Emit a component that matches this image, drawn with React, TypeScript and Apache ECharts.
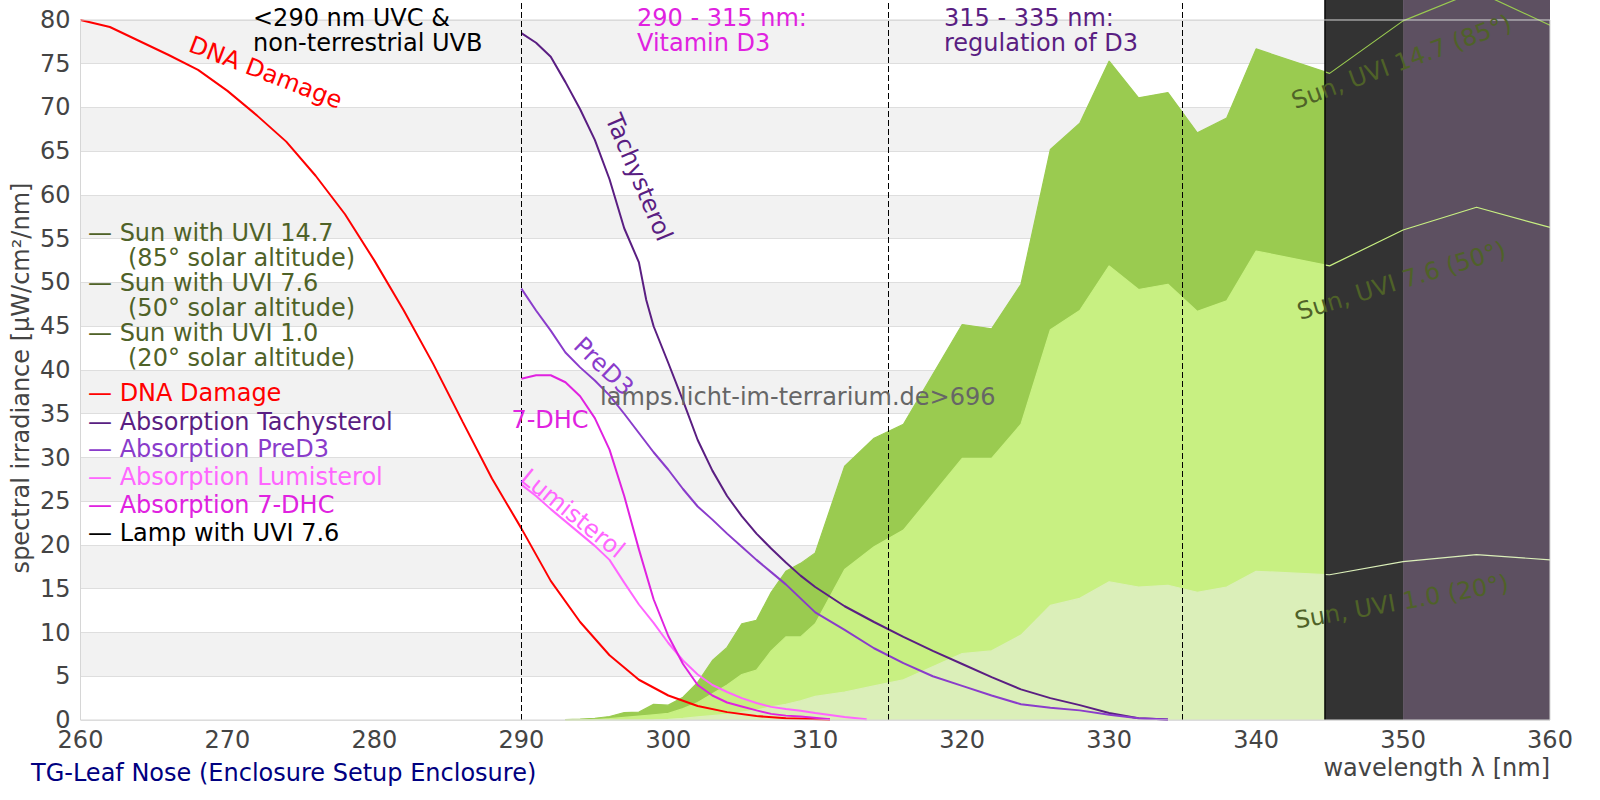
import React, { useEffect, useRef } from 'react';
import * as echarts from 'echarts';

const FONT = 'DejaVu Sans';

// ---- axes ----
const X_MIN = 260;
const X_MAX = 360;
const X_STEP = 10;
const Y_MIN = 0;
const Y_TOP_VALUE = 80;
const Y_MAX = 82.2857; // plot continues above 80 up to the page top; labels only up to 80
const Y_STEP = 5;

// ---- sun spectra (filled areas) ----
const sunWl = [293, 294, 295, 296, 297, 298, 299, 300, 301, 302, 303, 304, 305, 306, 307, 308, 309, 310,
  312, 314, 316, 320, 322, 324, 326, 328, 330, 332, 334, 336, 338, 340, 345, 350, 355, 360];
const sun147 = [0.05, 0.1, 0.2, 0.4, 0.85, 0.9, 1.8, 1.7, 2.6, 4.3, 6.8, 8.3, 11.0, 11.4, 14.6, 17.0, 17.9, 19.1,
  29.0, 32.2, 33.8, 45.2, 44.7, 49.8, 65.2, 68.2, 75.3, 71.1, 71.7, 67.1, 68.8, 76.7, 73.9, 79.9, 83.3, 79.4];
const sun76 = [0, 0.02, 0.05, 0.15, 0.3, 0.45, 0.6, 0.75, 1.3, 2.0, 3.0, 4.0, 5.2, 5.7, 7.9, 9.5, 9.5, 11.0,
  17.2, 19.8, 21.7, 29.9, 29.9, 33.8, 44.6, 46.8, 51.9, 49.2, 49.8, 46.7, 47.9, 53.6, 51.9, 56.0, 58.6, 56.3];
const sun10 = [0, 0, 0, 0, 0, 0, 0.02, 0.08, 0.2, 0.35, 0.5, 0.65, 0.9, 1.14, 1.5, 1.8, 2.2, 2.7,
  3.2, 3.9, 4.6, 7.6, 7.9, 9.7, 13.1, 13.9, 15.8, 15.2, 15.4, 14.6, 15.2, 17.0, 16.6, 18.1, 18.9, 18.3];

// ---- action spectra ----
const dnaWl = [260, 262, 264, 266, 268, 270, 272, 274, 276, 278, 280, 282, 284, 286, 288, 290, 292, 294, 296, 298,
  300, 302, 304, 306, 308, 311];
const dnaVal = [80.0, 79.2, 77.6, 76.0, 74.3, 71.9, 69.1, 66.1, 62.2, 57.8, 52.5, 46.8, 40.7, 34.1, 27.6, 21.9, 15.9,
  11.2, 7.4, 4.6, 2.8, 1.6, 0.9, 0.45, 0.2, 0.05];

const tachyWl = [290, 291, 292, 293, 294, 295, 296, 297, 298, 298.5, 299, 300, 301, 302, 303, 304, 305, 306, 307, 308,
  309, 310, 312, 314, 316, 318, 320, 322, 324, 326, 328, 330, 332, 334];
const tachyVal = [78.5, 77.4, 75.8, 72.9, 69.8, 66.3, 61.8, 56.2, 52.3, 48.0, 45.0, 40.8, 36.5, 32.0, 28.5, 25.6, 23.3,
  21.3, 19.6, 18.0, 16.5, 15.2, 13.0, 11.2, 9.5, 7.9, 6.4, 4.9, 3.5, 2.5, 1.7, 0.8, 0.2, 0.05];

const preWl = [290, 291, 292, 293, 294, 295, 296, 297, 298, 299, 300, 301, 302, 303, 304, 305, 306, 307, 308, 309, 310,
  312, 314, 316, 318, 320, 322, 324, 326, 328, 330, 332, 334];
const preVal = [49.3, 46.8, 44.5, 42.0, 40.3, 38.8, 37.1, 35.0, 32.8, 30.6, 28.6, 26.4, 24.4, 22.9, 21.3, 19.8, 18.3,
  16.9, 15.5, 13.9, 12.3, 10.3, 8.2, 6.5, 5.0, 3.9, 2.8, 1.8, 1.4, 1.1, 0.6, 0.2, 0.05];

const dhcWl = [290, 291, 292, 293, 294, 295, 296, 297, 298, 299, 300, 301, 302, 303, 304, 305, 306, 307, 308, 309, 311];
const dhcVal = [39.0, 39.4, 39.4, 38.6, 37.0, 34.5, 30.9, 25.6, 19.5, 13.8, 9.6, 6.4, 4.0, 2.8, 2.0, 1.55, 1.1, 0.7,
  0.5, 0.4, 0.08];

const lumiWl = [290, 291, 292, 293, 294, 295, 296, 297, 298, 299, 300, 301, 302, 303, 304, 305, 306, 307, 308, 309,
  310, 312, 313.5];
const lumiVal = [26.9, 25.6, 24.1, 22.7, 21.3, 19.9, 18.3, 15.7, 13.2, 11.1, 8.8, 6.8, 5.2, 4.0, 3.2, 2.5, 1.95, 1.5,
  1.25, 1.05, 0.8, 0.35, 0.08];

// ---- regions / markers ----
const bandBorders = [290, 315, 335];
const regionStart = [344.7, 350];
const regionEnd = [350, 360];
const regionColors = ['#333333', '#5d5061'];

// ---- texts ----
const legendLabels = [
  '— Sun with UVI 14.7', '(85° solar altitude)', '— Sun with UVI 7.6', '(50° solar altitude)',
  '— Sun with UVI 1.0', '(20° solar altitude)', '— DNA Damage', '— Absorption Tachysterol',
  '— Absorption PreD3', '— Absorption Lumisterol', '— Absorption 7-DHC', '— Lamp with UVI 7.6',
];
const curveLabels = ['DNA Damage', 'Tachysterol', 'PreD3', '7-DHC', 'Lumisterol',
  'Sun, UVI 14.7 (85°)', 'Sun, UVI 7.6 (50°)', 'Sun, UVI 1.0 (20°)'];
const curveLabelAt = [[272.6, 74.0], [298.0, 62.0], [295.6, 40.4], [291.95, 34.3], [293.5, 23.6],
  [349.9, 75.2], [349.9, 50.2], [349.9, 13.5]];
const curveLabelRot = [-21, -67, -44, 0, -39, 20, 17, 10];

const C = {
  olive: '#4f6228',
  sunDark: '#9acb50',
  sunLight: '#c8f082',
  sunPale: '#dbefb9',
  red: '#ff0000',
  tachy: '#5a1e82',
  pre: '#8a3ccb',
  lumi: '#ff66ff',
  dhc: '#e022e0',
};
const legendColors = [C.olive, C.olive, C.olive, C.olive, C.olive, C.olive, C.red, C.tachy, C.pre, C.lumi, C.dhc, '#000000'];
const curveLabelColors = [C.red, C.tachy, C.pre, C.dhc, C.lumi, C.olive, C.olive, C.olive];

const pairs = (xs: number[], ys: number[]) => xs.map((x, i) => [x, ys[i]]);

function buildOption() {
  const area = (data: number[][], color: string) => ({
    type: 'line', data, symbol: 'none', silent: true, z: 1,
    lineStyle: { width: 0, opacity: 0 },
    areaStyle: { color, opacity: 1 },
  });
  const sunLine = (data: number[][], color: string) => ({
    type: 'line', data, symbol: 'none', silent: true, z: 3,
    lineStyle: { width: 1.2, color },
  });
  const curve = (data: number[][], color: string) => ({
    type: 'line', data, symbol: 'none', silent: true, z: 4,
    lineStyle: { width: 2, color },
  });
  const regions = regionStart.map((s, i) => ({
    type: 'line', data: [[s, Y_MAX], [regionEnd[i], Y_MAX]], symbol: 'none', silent: true, z: 2,
    lineStyle: { width: 0, opacity: 0 },
    areaStyle: { color: regionColors[i], opacity: 1 },
  }));

  return {
    animation: false,
    textStyle: { fontFamily: FONT },
    grid: { left: 80.5, right: 50, top: 0, bottom: 80 },
    xAxis: {
      type: 'value', min: X_MIN, max: X_MAX, interval: X_STEP,
      axisLine: { show: false }, axisTick: { show: false }, splitLine: { show: false },
      axisLabel: { fontSize: 24, color: '#444444', fontFamily: FONT, margin: 8 },
    },
    yAxis: {
      type: 'value', min: Y_MIN, max: Y_MAX, interval: Y_STEP,
      axisLine: { show: false }, axisTick: { show: false },
      splitLine: { show: true, showMaxLine: false, lineStyle: { color: '#dedede', width: 1 } },
      splitArea: { show: true, areaStyle: { color: ['#ffffff', '#f2f2f2'] } },
      axisLabel: {
        fontSize: 24, color: '#444444', fontFamily: FONT, margin: 10, showMaxLabel: false,
        formatter: (v: number) => (v > Y_TOP_VALUE ? '' : String(v)),
      },
    },
    series: [
      area(pairs(sunWl, sun147), C.sunDark),
      area(pairs(sunWl, sun76), C.sunLight),
      area(pairs(sunWl, sun10), C.sunPale),
      ...regions,
      sunLine(pairs(sunWl, sun147), C.sunDark),
      sunLine(pairs(sunWl, sun76), C.sunLight),
      sunLine(pairs(sunWl, sun10), C.sunPale),
      curve(pairs(dnaWl, dnaVal), C.red),
      curve(pairs(tachyWl, tachyVal), C.tachy),
      curve(pairs(preWl, preVal), C.pre),
      curve(pairs(lumiWl, lumiVal), C.lumi),
      curve(pairs(dhcWl, dhcVal), C.dhc),
      {
        type: 'line', symbol: 'none', silent: true, z: 6,
        data: [[X_MIN, Y_MIN], [X_MAX, Y_MIN], [X_MAX, Y_TOP_VALUE], [X_MIN, Y_TOP_VALUE], [X_MIN, Y_MIN]],
        lineStyle: { width: 1, color: '#d6d6d6' },
        markLine: {
          silent: true, symbol: ['none', 'none'], label: { show: false }, z: 5,
          lineStyle: { color: '#000000', type: [6, 3], width: 1 },
          data: [
            ...bandBorders.map((b) => ({ xAxis: b })),
            { xAxis: regionStart[0], lineStyle: { color: '#000000', type: 'solid', width: 1.5 } },
          ],
        },
      },
    ],
  };
}

export default function App() {
  const ref = useRef<HTMLDivElement>(null);
  useEffect(() => {
    document.body.style.margin = '0';
    const chart = echarts.init(ref.current as HTMLDivElement, null, { renderer: 'svg' });
    chart.setOption(buildOption() as any);

    const px = (x: number, y: number) => chart.convertToPixel({ gridIndex: 0 }, [x, y]) as number[];
    const text = (t: string, x: number, y: number, color: string, align = 'left', rotDeg = 0, size = 24) => ({
      type: 'text', x, y, rotation: (rotDeg * Math.PI) / 180, z: 100, silent: true,
      style: { text: t, fill: color, fontSize: size, fontFamily: FONT, align, verticalAlign: 'middle' },
    });
    const mid = 8.3; // baseline -> central offset for 24px
    const legendBase = [241.7, 266.7, 291.7, 316.7, 341.7, 366.7, 401.7, 430, 457.7, 485.7, 513.3, 541.5];
    const elements: any[] = [];
    legendLabels.forEach((l, i) => {
      const indent = l.startsWith('(') ? 128 : 88;
      elements.push(text(l, indent, legendBase[i] - mid, legendColors[i]));
    });
    curveLabels.forEach((l, i) => {
      const p = px(curveLabelAt[i][0], curveLabelAt[i][1]);
      elements.push(text(l, p[0], p[1], curveLabelColors[i], 'center', curveLabelRot[i]));
    });
    // band annotations at top
    elements.push(text('<290 nm UVC &', 253, 26.5 - mid, '#000000'));
    elements.push(text('non-terrestrial UVB', 253, 51.5 - mid, '#000000'));
    elements.push(text('290 - 315 nm:', 637, 26.5 - mid, C.dhc));
    elements.push(text('Vitamin D3', 637, 51.5 - mid, C.dhc));
    elements.push(text('315 - 335 nm:', 944, 26.5 - mid, C.tachy));
    elements.push(text('regulation of D3', 944, 51.5 - mid, C.tachy));
    // watermark
    elements.push(text('lamps.licht-im-terrarium.de>696', 600, 405 - mid, '#666666'));
    // axis titles
    elements.push(text('spectral irradiance [µW/cm²/nm]', 21, 378, '#444444', 'center', 90));
    elements.push(text('wavelength λ [nm]', 1550, 768.4, '#444444', 'right'));
    elements.push(text('TG-Leaf Nose (Enclosure Setup Enclosure)', 31, 773.2, '#000080'));

    chart.setOption({ graphic: { elements } } as any);
    return () => chart.dispose();
  }, []);
  return <div ref={ref} style={{ width: 1600, height: 800 }} />;
}
